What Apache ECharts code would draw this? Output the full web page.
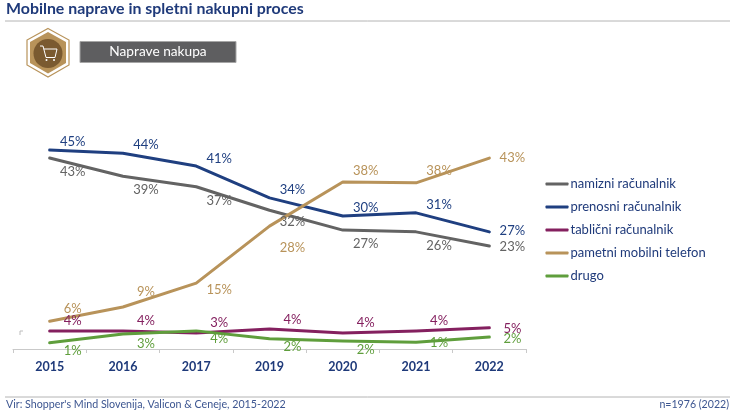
<!DOCTYPE html>
<html>
<head>
<meta charset="utf-8">
<style>
    html, body { margin: 0; padding: 0; background: #fff; }
    #chart { width: 736px; height: 415px; }
</style>
<script src="https://cdn.jsdelivr.net/npm/echarts@6/dist/echarts.min.js"></script>
</head>
<body>
<div id="chart"></div>
<script>
// Podatki, odčitani s slike.
const years = ['2015', '2016', '2017', '2019', '2020', '2021', '2022'];
const namizni = [43.2, 39.1, 36.7, 31.4, 26.9, 26.5, 23.3];
const prenosni = [45.0, 44.3, 41.4, 34.2, 30.1, 30.8, 26.5];
const tablicni = [4.1, 4.1, 3.6, 4.5, 3.6, 4.1, 4.8];
const pametni = [6.3, 9.5, 14.9, 27.8, 37.8, 37.6, 43.2];
const drugo = [1.4, 3.4, 4.1, 2.3, 1.8, 1.5, 2.7];

// Napisi vrednosti, kot so na sliki.
const namizniLabels = ['43%', '39%', '37%', '32%', '27%', '26%', '23%'];
const prenosniLabels = ['45%', '44%', '41%', '34%', '30%', '31%', '27%'];
const tablicniLabels = ['4%', '4%', '3%', '4%', '4%', '4%', '5%'];
const pametniLabels = ['6%', '9%', '15%', '28%', '38%', '38%', '43%'];
const drugoLabels = ['1%', '3%', '4%', '2%', '2%', '1%', '2%'];

// Navpični zamiki napisov glede na točko.
const namizniNudge = [14, 14, 14, 12, 14, 14, 1];
const prenosniNudge = [-8, -8, -7, -8, -8, -8, -1];
const tablicniNudge = [-10, -10, -10, -9, -10, -10, 1];
const pametniNudge = [-12, -15, 7, 22, -11, -12, 0];
const drugoNudge = [8, 10, 8, 8, 9, 0, 2];

const navy = '#1f3a7a';
const font = 'Lato';

function makeSeries(name, values, labels, nudge, color) {
    return {
        name: name,
        type: 'line',
        data: values.map((v, i) => ({
            value: v,
            label: { formatter: labels[i], offset: [23, nudge[i]] }
        })),
        symbol: 'circle',
        symbolSize: 1,
        showAllSymbol: true,
        lineStyle: { color: color, width: 3, cap: 'round', join: 'round' },
        itemStyle: { color: color },
        label: {
            show: true,
            position: 'inside',
            color: color,
            fontFamily: font,
            fontSize: 13
        },
        silent: true,
        animation: false
    };
}

let chart = echarts.init(document.getElementById('chart'));

let option = {
    animation: false,
    grid: { left: 13, width: 513, top: 128, height: 221 },
    xAxis: {
        type: 'category',
        data: years,
        axisLine: { lineStyle: { color: '#c9c9c9', width: 1 } },
        axisTick: { show: true, length: 4, lineStyle: { color: '#c9c9c9' } },
        axisLabel: { color: navy, fontFamily: font, fontWeight: 'bold', fontSize: 12.5, margin: 11 }
    },
    yAxis: { type: 'value', min: 0, max: 50, show: false },
    legend: {
        orient: 'vertical',
        left: 540.5,
        top: 172,
        itemWidth: 23,
        itemHeight: 3,
        itemGap: 9,
        icon: 'roundRect',
        selectedMode: false,
        textStyle: { color: navy, fontFamily: font, fontSize: 13, padding: [0, 0, 0, -3], lineHeight: 14 }
    },
    series: [
        makeSeries('namizni računalnik', namizni, namizniLabels, namizniNudge, '#636363'),
        makeSeries('prenosni računalnik', prenosni, prenosniLabels, prenosniNudge, '#1f3f80'),
        makeSeries('tablični računalnik', tablicni, tablicniLabels, tablicniNudge, '#84205f'),
        makeSeries('pametni mobilni telefon', pametni, pametniLabels, pametniNudge, '#b8935a'),
        makeSeries('drugo', drugo, drugoLabels, drugoNudge, '#5f9e3c')
    ],
    graphic: [
        // Naslov in črte.
        { type: 'text', left: 6, top: 1, style: { text: 'Mobilne naprave in spletni nakupni proces', fill: navy, font: 'bold 15.9px Lato' } },
        { type: 'line', shape: { x1: 5, y1: 21, x2: 730, y2: 21 }, style: { stroke: '#b4b4b4', lineWidth: 1 } },
        { type: 'line', shape: { x1: 5, y1: 397, x2: 730, y2: 397 }, style: { stroke: '#b4b4b4', lineWidth: 1 } },
        // Noga.
        { type: 'text', left: 6, top: 399, style: { text: "Vir: Shopper's Mind Slovenija, Valicon & Ceneje, 2015-2022", fill: '#3c5590', font: '10.7px Lato' } },
        { type: 'text', right: 7, top: 399, style: { text: 'n=1976 (2022)', fill: '#3c5590', font: '10.6px Lato' } },
        // Trak.
        { type: 'rect', shape: { x: 80, y: 41.5, width: 156, height: 21 }, style: { fill: '#5e5e60', stroke: '#a6a6a6', lineWidth: 1 } },
        { type: 'text', x: 158, y: 52, style: { text: 'Naprave nakupa', fill: '#fff', font: '13.7px Lato', align: 'center', verticalAlign: 'middle' } },
        // Ikona košarice.
        { type: 'polygon', shape: { points: [[48, 28.5], [69, 40], [69, 65], [48, 77], [27, 65], [27, 40]] }, style: { fill: '#fff', stroke: '#b8935a', lineWidth: 1.2 } },
        { type: 'polygon', shape: { points: [[48, 32], [66, 42], [66, 63], [48, 73.5], [30, 63], [30, 42]] }, style: { fill: '#b8935a' } },
        { type: 'circle', shape: { cx: 48, cy: 53.5, r: 14.5 }, style: { fill: '#7a5a30' } },
        { type: 'polyline', shape: { points: [[40, 46], [43, 46], [46, 57.5], [55, 57.5], [57, 49], [43.8, 49]] }, style: { stroke: '#fff', fill: null, lineWidth: 1 } },
        { type: 'circle', shape: { cx: 46.5, cy: 60, r: 1 }, style: { fill: '#fff' } },
        { type: 'circle', shape: { cx: 54, cy: 60, r: 1 }, style: { fill: '#fff' } },
        // Majhen ostanek v izvirnem grafu.
        { type: 'polyline', shape: { points: [[20, 335], [20, 331], [23, 331]] }, style: { stroke: '#bdbdbd', fill: null, lineWidth: 1 } }
    ]
};

chart.setOption(option);
</script>
</body>
</html>
